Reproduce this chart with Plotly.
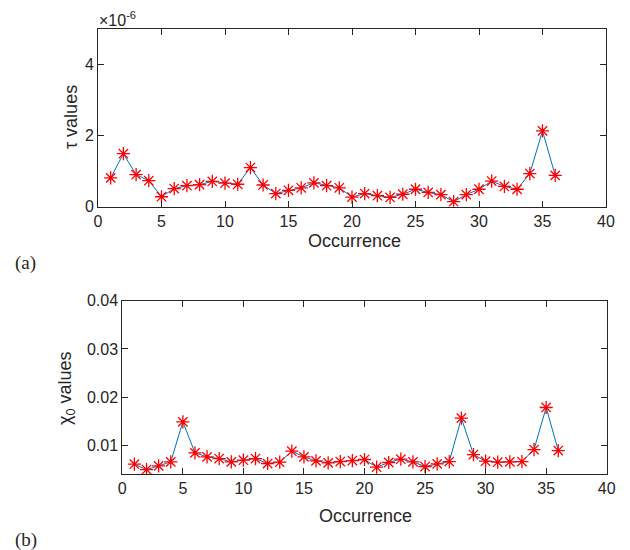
import plotly.graph_objects as go

occurrence = list(range(1, 37))
# tau values in units of 1e-6
tau_scaled = [0.81, 1.49, 0.90, 0.73, 0.28, 0.51, 0.59, 0.62, 0.71, 0.66,
              0.63, 1.10, 0.61, 0.37, 0.46, 0.53, 0.67, 0.59, 0.53, 0.27,
              0.37, 0.31, 0.26, 0.35, 0.49, 0.40, 0.34, 0.14, 0.34, 0.49,
              0.72, 0.57, 0.49, 0.93, 2.13, 0.88]
chi0 = [0.00613, 0.00502, 0.00578, 0.00661, 0.0149, 0.00848, 0.00765, 0.00730,
        0.00661, 0.00696, 0.00730, 0.00627, 0.00654, 0.00883, 0.00765, 0.00682,
        0.00641, 0.00668, 0.00689, 0.00710, 0.00551, 0.00648, 0.00717, 0.00661,
        0.00565, 0.00620, 0.00668, 0.01567, 0.00813, 0.00675, 0.00654, 0.00661,
        0.00668, 0.00917, 0.01788, 0.00896]
x_ticks = [0, 5, 10, 15, 20, 25, 30, 35, 40]
tau_ticks = [0, 2, 4]
chi_ticks = [0.01, 0.02, 0.03, 0.04]
chi_tick_labels = ["0.01", "0.02", "0.03", "0.04"]

W, H = 630, 550
OFF = 8  # page body margin
LINE = "#0072BD"
AX = "#262626"
FONT = "Liberation Sans, Arial, sans-serif"
SERIF = "Liberation Serif, Times New Roman, serif"

fig = go.Figure()
trace_style = dict(mode="lines+markers",
                   line=dict(color=LINE, width=1),
                   marker=dict(symbol="asterisk-open", size=11,
                               color="red", line=dict(color="red", width=1.3)),
                   showlegend=False)
fig.add_trace(go.Scatter(x=occurrence, y=tau_scaled, xaxis="x", yaxis="y", **trace_style))
fig.add_trace(go.Scatter(x=occurrence, y=chi0, xaxis="x2", yaxis="y2", **trace_style))

def px(x):
    return (x - OFF) / W

def py(y):
    return 1 - (y - OFF) / H

axis_common = dict(showgrid=False, zeroline=False, showline=True, linecolor=AX,
                   linewidth=1, mirror="ticks", ticks="inside", ticklen=6,
                   tickcolor=AX, tickwidth=1, automargin=False,
                   tickfont=dict(family=FONT, size=16, color=AX))

fig.update_layout(
    width=W, height=H,
    margin=dict(l=0, r=0, t=0, b=0, pad=0, autoexpand=False),
    paper_bgcolor="white", plot_bgcolor="white",
    xaxis=dict(domain=[px(98), px(606)], range=[0, 40], tickvals=x_ticks,
               anchor="y", **axis_common),
    yaxis=dict(domain=[py(206.7), py(28.7)], range=[0, 5], tickvals=tau_ticks,
               anchor="x", **axis_common),
    xaxis2=dict(domain=[px(122.3), px(606.7)], range=[0, 40], tickvals=x_ticks,
                anchor="y2", **axis_common),
    yaxis2=dict(domain=[py(474), py(300.7)], range=[0.0041, 0.04],
                tickvals=chi_ticks, ticktext=chi_tick_labels,
                anchor="x2", **axis_common),
)

ann = []
def add_text(text, x, y, size=18, angle=0, family=FONT, xanchor="center"):
    ann.append(dict(text=text, x=px(x), y=py(y), xref="paper", yref="paper",
                    showarrow=False, textangle=angle, xanchor=xanchor,
                    yanchor="middle",
                    font=dict(family=family, size=size, color=AX)))

add_text("×10<sup>-6</sup>", 97, 19, size=16, xanchor="left")
add_text("τ values", 71, 117, angle=-90)
add_text("Occurrence", 354, 241)
add_text("χ<sub>0</sub> values", 66, 388, angle=-90)
add_text("Occurrence", 365, 516)
add_text("(a)", 25, 263, size=19, family=SERIF)
add_text("(b)", 26, 540, size=19, family=SERIF)
fig.update_layout(annotations=ann)

fig.write_html("out.html")
